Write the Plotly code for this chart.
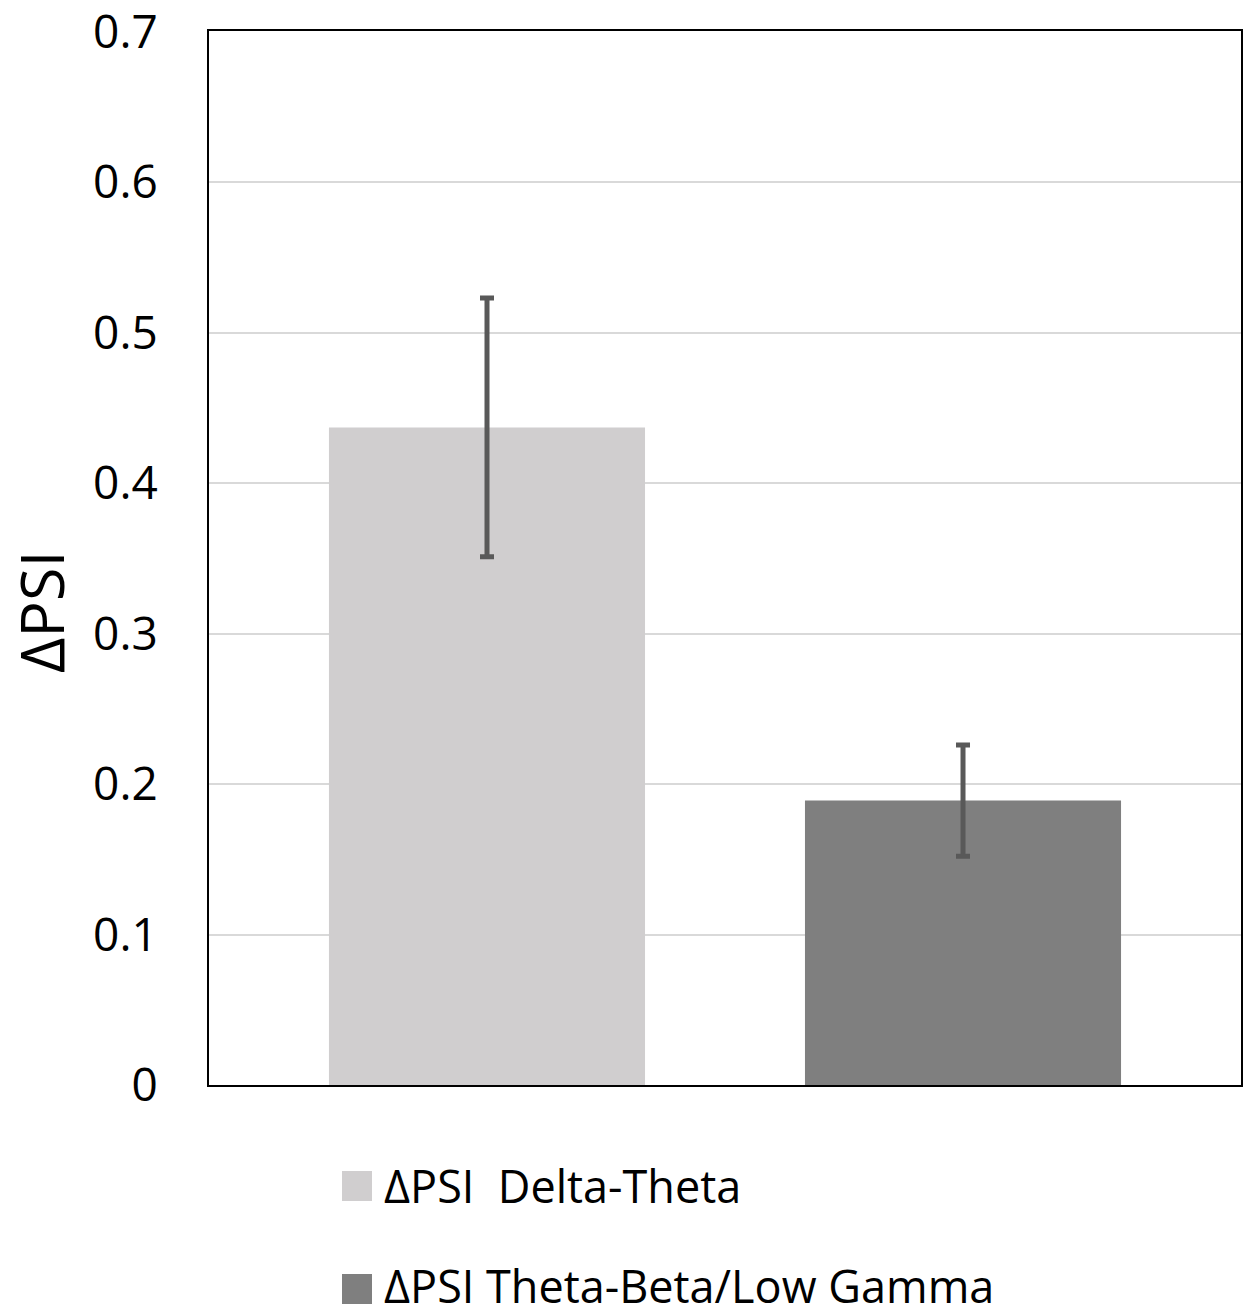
import plotly.graph_objects as go

# Mean phase synchronisation change per band pair, with error
series_names = ["ΔPSI  Delta-Theta", "ΔPSI Theta-Beta/Low Gamma"]
means = [0.437, 0.189]
errors = [0.086, 0.037]
bar_colors = ["#D0CECF", "#7F7F7F"]
y_ticks = [0, 0.1, 0.2, 0.3, 0.4, 0.5, 0.6, 0.7]
y_tick_text = ["0", "0.1", "0.2", "0.3", "0.4", "0.5", "0.6", "0.7"]

W, H = 1249, 1315
M_L, M_R, M_T, M_B = 209, 8, 31, 230
plot_w = W - M_L - M_R
plot_h = H - M_T - M_B
base_px = M_T + plot_h
FONT = "Open Sans"


def px_to_paper_y(py):
    return (base_px - py) / plot_h


def px_to_paper_x(px):
    return (px - M_L) / plot_w


fig = go.Figure()
for name, m, e, c in zip(series_names, means, errors, bar_colors):
    fig.add_trace(go.Bar(
        x=[""], y=[m], name=name, marker=dict(color=c, line=dict(width=0)),
        error_y=dict(type="data", array=[e], color="#595959", thickness=5, width=7),
        showlegend=False,
    ))

# Legend drawn as swatches + labels beneath the plot
swatch_rows_px = [1186, 1289]   # swatch centres
text_rows_px = [1185, 1285]     # label box centres
sw_x0, sw_x1, txt_x = 342, 372, 382
for name, c, ys, yt in zip(series_names, bar_colors, swatch_rows_px, text_rows_px):
    fig.add_shape(type="rect", xref="paper", yref="paper",
                  x0=px_to_paper_x(sw_x0), x1=px_to_paper_x(sw_x1),
                  y0=px_to_paper_y(ys + 15), y1=px_to_paper_y(ys - 15),
                  fillcolor=c, line=dict(width=0))
    fig.add_annotation(xref="paper", yref="paper",
                       x=px_to_paper_x(txt_x), y=px_to_paper_y(yt),
                       text=name, showarrow=False, xanchor="left", yanchor="middle",
                       font=dict(family=FONT, size=45, color="black"))

# Vertical axis label
fig.add_annotation(xref="paper", yref="paper", x=px_to_paper_x(40), y=px_to_paper_y(612),
                   text="ΔPSI", textangle=-90, showarrow=False,
                   xanchor="center", yanchor="middle",
                   font=dict(family=FONT, size=61, color="black"))

fig.update_layout(
    width=W, height=H,
    margin=dict(l=M_L, r=M_R, t=M_T, b=M_B, autoexpand=False),
    paper_bgcolor="white", plot_bgcolor="white",
    barmode="group", bargap=0.0775, bargroupgap=0.336,
    font=dict(family=FONT, color="black"),
    showlegend=False,
)
fig.update_xaxes(showticklabels=False, showgrid=False, zeroline=False, automargin=False,
                 showline=True, linecolor="black", linewidth=2, mirror=True, ticks="")
fig.update_yaxes(range=[0, 0.7005], tickvals=y_ticks, ticktext=y_tick_text,
                 tickfont=dict(family=FONT, size=46, color="black"),
                 ticklabelstandoff=40, ticklabeloverflow="allow", automargin=False,
                 showgrid=True, gridcolor="#D9D9D9", gridwidth=2, zeroline=False,
                 showline=True, linecolor="black", linewidth=2, mirror=True, ticks="")

fig.write_html("out.html")
